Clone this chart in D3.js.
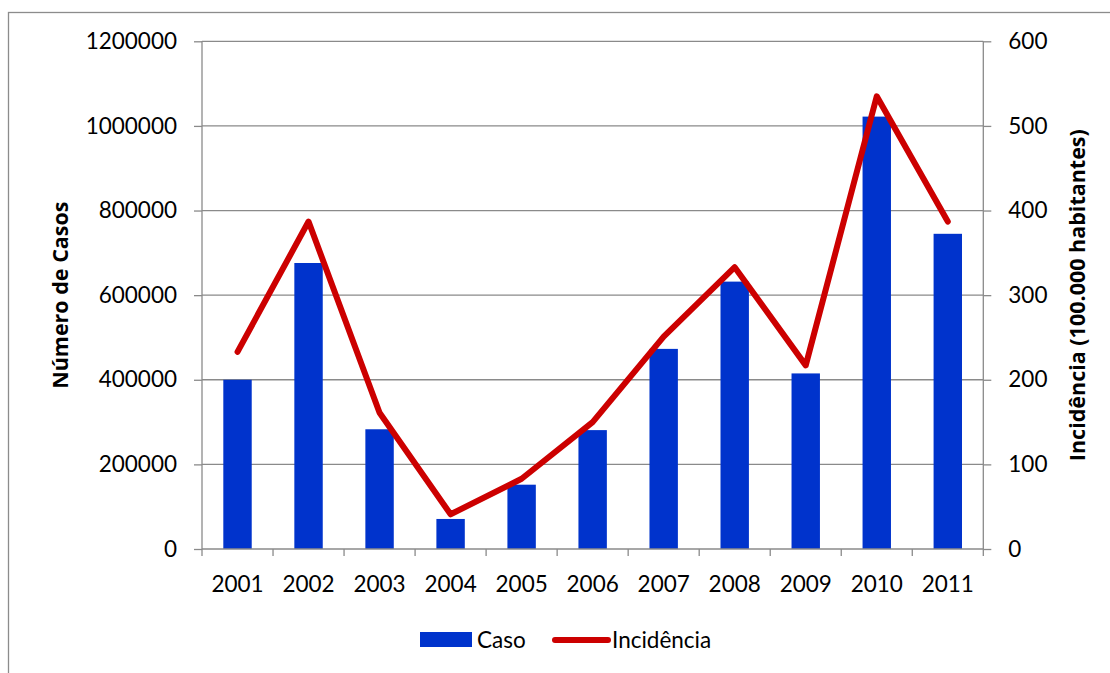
<!DOCTYPE html>
<html>
<head>
<meta charset="utf-8">
<script src="https://cdn.jsdelivr.net/npm/d3@7"></script>
<style>
  html, body { margin: 0; padding: 0; background: #fff; }
  svg text { font-family: Lato, "Open Sans", sans-serif; fill: #000; }
</style>
</head>
<body>
<svg id="chart" width="1110" height="673"></svg>
<script>
// Casos e incidência por ano
const anos = ["2001","2002","2003","2004","2005","2006","2007","2008","2009","2010","2011"];
const casos = [400000, 676000, 283000, 71000, 152000, 281000, 473000, 632000, 415000, 1022000, 745000];
const incidencia = [233, 387, 161, 41, 83, 150, 251, 333, 217, 535, 387];
const ticksCasos = [0, 200000, 400000, 600000, 800000, 1000000, 1200000];
const ticksIncid = [0, 100, 200, 300, 400, 500, 600];

const svg = d3.select("#chart");
const plot = { left: 202, right: 983.3, top: 41.3, bottom: 549 };
const gridColor = "#8a8a8a";
const barColor = "#0033cc";
const lineColor = "#cc0000";
const tickFont = "22.5px";

// outer chart frame
svg.append("rect")
  .attr("x", 8.5).attr("y", 12.5)
  .attr("width", 1120).attr("height", 700)
  .attr("fill", "#fff").attr("stroke", "#8c8c8c").attr("stroke-width", 1.3);

const x = d3.scaleBand().domain(anos).range([plot.left, plot.right]).paddingInner(0.6).paddingOuter(0.3);
const xTick = d3.scaleBand().domain(anos).range([plot.left, plot.right]);
const yL = d3.scaleLinear().domain([0, 1200000]).range([plot.bottom, plot.top]);
const yR = d3.scaleLinear().domain([0, 600]).range([plot.bottom, plot.top]);

// horizontal gridlines
svg.append("g").selectAll("line").data(ticksCasos.slice(1)).join("line")
  .attr("x1", plot.left).attr("x2", plot.right)
  .attr("y1", d => yL(d)).attr("y2", d => yL(d))
  .attr("stroke", gridColor).attr("stroke-width", 1.3);

// bars
svg.append("g").selectAll("rect").data(casos).join("rect")
  .attr("x", (d, i) => x(anos[i]))
  .attr("y", d => yL(d))
  .attr("width", x.bandwidth())
  .attr("height", d => plot.bottom - yL(d))
  .attr("fill", barColor);

// left axis
const axL = svg.append("g").attr("transform", `translate(${plot.left},0)`)
  .call(d3.axisLeft(yL).tickValues(ticksCasos).tickFormat(d3.format("d")).tickSize(8).tickPadding(17));
// right axis
const axR = svg.append("g").attr("transform", `translate(${plot.right},0)`)
  .call(d3.axisRight(yR).tickValues(ticksIncid).tickFormat(d3.format("d")).tickSize(8).tickPadding(17));
// bottom axis with ticks on category boundaries
const axB = svg.append("g").attr("transform", `translate(0,${plot.bottom})`)
  .call(d3.axisBottom(x).tickSize(0).tickPadding(27));
const boundaries = anos.map(a => xTick(a)).concat([plot.right]);
axB.selectAll("line.bound").data(boundaries).join("line").attr("class", "bound")
  .attr("x1", d => d).attr("x2", d => d).attr("y1", 0).attr("y2", 7)
  .attr("stroke", gridColor).attr("stroke-width", 1.3);

[axL, axR, axB].forEach(g => {
  g.select(".domain").attr("stroke", gridColor).attr("stroke-width", 1.3);
  g.selectAll(".tick line").attr("stroke", gridColor).attr("stroke-width", 1.3);
  g.selectAll("text").style("font-size", tickFont).style("font-family", "Lato, sans-serif").attr("fill", "#000");
});
axL.select(".domain").attr("d", `M0,${plot.top}V${plot.bottom}`);
axR.select(".domain").attr("d", `M0,${plot.top}V${plot.bottom}`);
axB.select(".domain").attr("d", `M${plot.left},0H${plot.right}`);

// incidence line
const line = d3.line()
  .x((d, i) => x(anos[i]) + x.bandwidth() / 2)
  .y(d => yR(d));
svg.append("path").datum(incidencia)
  .attr("d", line)
  .attr("fill", "none").attr("stroke", lineColor)
  .attr("stroke-width", 6).attr("stroke-linejoin", "round").attr("stroke-linecap", "round");

// axis titles
const titleStyle = sel => sel
  .attr("text-anchor", "middle")
  .style("font-family", "'Open Sans', sans-serif")
  .style("font-size", "21.5px").style("font-weight", "bold");
svg.append("text")
  .attr("transform", `translate(68,${(plot.top + plot.bottom) / 2}) rotate(-90)`)
  .call(titleStyle)
  .text("Número de Casos");
svg.append("text")
  .attr("transform", `translate(1085,${(plot.top + plot.bottom) / 2}) rotate(-90)`)
  .call(titleStyle)
  .text("Incidência (100.000 habitantes)");

// legend
const legend = svg.append("g");
legend.append("rect").attr("x", 420).attr("y", 632).attr("width", 52).attr("height", 15).attr("fill", barColor);
legend.append("text").attr("x", 477).attr("y", 648).style("font-size", tickFont).text("Caso");
legend.append("line").attr("x1", 555).attr("x2", 608).attr("y1", 640).attr("y2", 640)
  .attr("stroke", lineColor).attr("stroke-width", 6).attr("stroke-linecap", "round");
legend.append("text").attr("x", 612).attr("y", 648).style("font-size", tickFont).text("Incidência");
</script>
</body>
</html>
